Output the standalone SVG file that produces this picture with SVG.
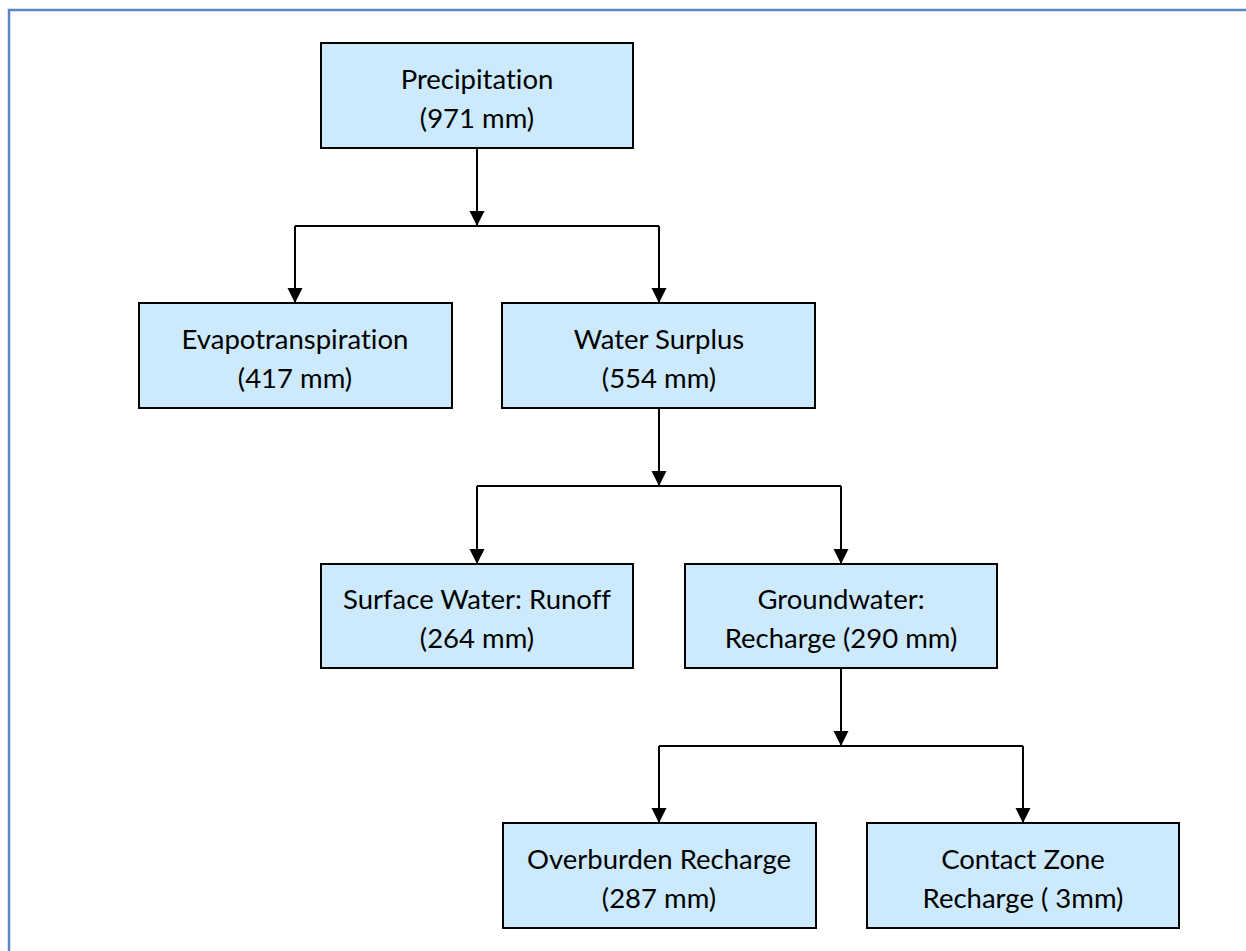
<svg xmlns="http://www.w3.org/2000/svg" width="1246" height="951" viewBox="0 0 1246 951">
<style>
.box{fill:#cdeafc;stroke:#000;stroke-width:2}
.lbl{font-family:Lato,"Liberation Sans",sans-serif;font-size:27.5px;fill:#000;text-anchor:middle;font-variant-ligatures:none}
.con{fill:none;stroke:#000;stroke-width:2}
</style>
<defs>
<marker id="ah" markerUnits="userSpaceOnUse" markerWidth="16" markerHeight="16" refX="15" refY="7.5" orient="auto">
<path d="M0,0 L15,7.5 L0,15 Z" fill="#000"/>
</marker>
</defs>
<rect width="1246" height="951" fill="#fff"/>
<path d="M9,951 V10 H1246" fill="none" stroke="#5a86c4" stroke-width="2.5"/>
<g id="connectors">
<path class="con" d="M477,148 V226" marker-end="url(#ah)"/>
<path class="con" d="M295,226 H659"/>
<path class="con" d="M295,226 V303" marker-end="url(#ah)"/>
<path class="con" d="M659,226 V303" marker-end="url(#ah)"/>
<path class="con" d="M659,408 V486" marker-end="url(#ah)"/>
<path class="con" d="M477,486 H841"/>
<path class="con" d="M477,486 V564" marker-end="url(#ah)"/>
<path class="con" d="M841,486 V564" marker-end="url(#ah)"/>
<path class="con" d="M841,668 V746" marker-end="url(#ah)"/>
<path class="con" d="M659,746 H1023"/>
<path class="con" d="M659,746 V823" marker-end="url(#ah)"/>
<path class="con" d="M1023,746 V823" marker-end="url(#ah)"/>
</g>
<g id="precipitation">
<rect class="box" x="321" y="43" width="312" height="105"/>
<text class="lbl" x="477" y="89">Precipitation</text>
<text class="lbl" x="477" y="128">(971 mm)</text>
</g>
<g id="evapotranspiration">
<rect class="box" x="139" y="303" width="313" height="105"/>
<text class="lbl" x="295" y="349">Evapotranspiration</text>
<text class="lbl" x="295" y="388">(417 mm)</text>
</g>
<g id="water-surplus">
<rect class="box" x="502" y="303" width="313" height="105"/>
<text class="lbl" x="659" y="349">Water Surplus</text>
<text class="lbl" x="659" y="388">(554 mm)</text>
</g>
<g id="surface-water">
<rect class="box" x="321" y="564" width="312" height="104"/>
<text class="lbl" x="477" y="609">Surface Water: Runoff</text>
<text class="lbl" x="477" y="648">(264 mm)</text>
</g>
<g id="groundwater">
<rect class="box" x="685" y="564" width="312" height="104"/>
<text class="lbl" x="841" y="609">Groundwater:</text>
<text class="lbl" x="841" y="648">Recharge (290 mm)</text>
</g>
<g id="overburden">
<rect class="box" x="503" y="823" width="313" height="105"/>
<text class="lbl" x="659" y="869">Overburden Recharge</text>
<text class="lbl" x="659" y="908">(287 mm)</text>
</g>
<g id="contact-zone">
<rect class="box" x="867" y="823" width="312" height="105"/>
<text class="lbl" x="1023" y="869">Contact Zone</text>
<text class="lbl" x="1023" y="908">Recharge ( 3mm)</text>
</g>
</svg>
